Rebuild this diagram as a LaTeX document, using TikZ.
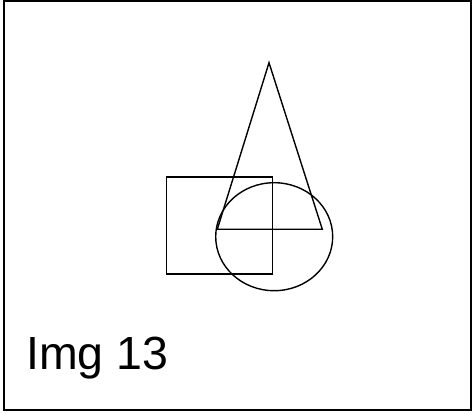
\documentclass[tikz,border=0pt]{standalone}
\usepackage{fontspec}
\setmainfont{Liberation Sans}
\begin{document}
\begin{tikzpicture}[x=1pt,y=-1pt,figline/.style={draw=black,line width=1.4pt}]
\useasboundingbox (0,0) rectangle (472,414);
\fill[white] (0,0) rectangle (472,414);
\draw[line width=2pt] (3.5,1.5) rectangle (471,410.5);
\draw[figline] (166.7,177) rectangle (272.7,274);
\draw[figline] (269,62.7) -- (322.3,229.3) -- (217.3,229.3) -- cycle;
\draw[figline] (274.2,236.7) ellipse [x radius=58.5, y radius=54];
\node[anchor=base west,inner sep=0pt,font=\fontsize{46.5}{52}\selectfont] (lbl) at (26,370) {Img 13};
\end{tikzpicture}
\end{document}
